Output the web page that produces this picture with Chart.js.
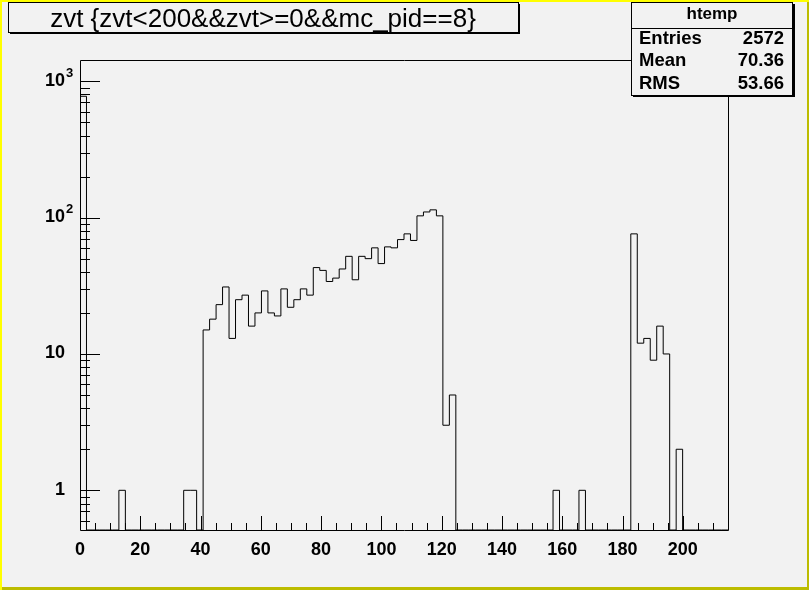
<!DOCTYPE html>
<html><head><meta charset="utf-8">
<script src="https://cdn.jsdelivr.net/npm/chart.js@4.4.1/dist/chart.umd.min.js"></script>
<style>html,body{margin:0;padding:0;background:#f2f2f2;overflow:hidden}</style></head>
<body><canvas id="c" width="809" height="590"></canvas>
<script>
const titleText = 'zvt {zvt<200&&zvt>=0&&mc_pid==8}';
const histName = 'htemp';
const statLabels = ['Entries', 'Mean', 'RMS'];
const statValues = ['2572', '70.36', '53.66'];
const xMin = 0, xMax = 215, nBins = 100;
const yAxisMin = 0.5115, yAxisMax = 1432;
const xTickValues = [0, 20, 40, 60, 80, 100, 120, 140, 160, 180, 200];
const xTickLabels = ['0', '20', '40', '60', '80', '100', '120', '140', '160', '180', '200'];
const yTickValues = [1, 10, 100, 1000];
const yTickLabels = ['1', '10', '10^2', '10^3'];
const counts = [
  776, 0, 0, 0, 0, 0, 1, 0, 0, 0,
  0, 0, 0, 0, 0, 0, 1, 1, 0, 15,
  18, 23, 31, 13, 25, 27, 16, 20, 29, 20,
  19, 30, 22, 25, 30, 27, 43, 41, 34, 36,
  42, 52, 35, 52, 50, 60, 46, 61, 60, 69,
  76, 68, 103, 110, 114, 103, 3, 5, 0, 0,
  0, 0, 0, 0, 0, 0, 0, 0, 0, 0,
  0, 0, 0, 1, 0, 0, 0, 1, 0, 0,
  0, 0, 0, 0, 0, 76, 12, 13, 9, 16,
  10, 0, 2, 0, 0, 0, 0, 0, 0, 0
];

const binW = (xMax - xMin) / nBins;
const pts = [{x: xMin, y: yAxisMin}];
counts.forEach((c, i) => pts.push({x: xMin + i * binW, y: c > 0 ? c : yAxisMin}));
pts.push({x: xMax, y: yAxisMin});

const BG = '#f2f2f2';
const rootPlugin = {
  id: 'rootStyle',
  beforeDraw(chart) {
    const ctx = chart.ctx;
    ctx.save();
    ctx.fillStyle = BG;
    ctx.fillRect(0, 0, 809, 590);
    ctx.restore();
  },
  afterDraw(chart) {
    const ctx = chart.ctx;
    const a = chart.chartArea;
    const xs = chart.scales.x, ys = chart.scales.y;
    ctx.save();
    ctx.strokeStyle = '#000';
    ctx.fillStyle = '#000';
    ctx.lineWidth = 1;
    // frame
    ctx.beginPath();
    ctx.moveTo(a.left + 0.5, a.top + 0.5); ctx.lineTo(a.right + 0.5, a.top + 0.5);
    ctx.lineTo(a.right + 0.5, a.bottom + 0.5); ctx.lineTo(a.left + 0.5, a.bottom + 0.5);
    ctx.closePath();
    ctx.stroke();
    // y ticks (log)
    ctx.beginPath();
    for (let d = -1; d <= 3; d++) {
      for (let m = 1; m <= 9; m++) {
        const v = m * Math.pow(10, d);
        if (v < yAxisMin || v > yAxisMax) continue;
        const y = Math.round(ys.getPixelForValue(v)) + 0.5;
        const len = m === 1 ? 20 : 10;
        ctx.moveTo(a.left, y); ctx.lineTo(a.left + len, y);
      }
    }
    // x ticks
    for (let v = 5; v < xMax; v += 5) {
      const x = Math.round(xs.getPixelForValue(v)) + 0.5;
      const len = v % 20 === 0 ? 14 : 7;
      ctx.moveTo(x, a.bottom); ctx.lineTo(x, a.bottom - len);
    }
    ctx.stroke();
    // x labels
    ctx.font = 'bold 18px "Liberation Sans", Arial, sans-serif';
    ctx.textAlign = 'center';
    ctx.textBaseline = 'alphabetic';
    xTickValues.forEach((v, i) => {
      ctx.fillText(xTickLabels[i], xs.getPixelForValue(v), a.bottom + 25);
    });
    // y labels
    yTickValues.forEach((v, i) => {
      const y = ys.getPixelForValue(v);
      const parts = yTickLabels[i].split('^');
      ctx.font = 'bold 18px "Liberation Sans", Arial, sans-serif';
      ctx.textAlign = 'right';
      ctx.fillText(parts[0], 65, y + 4.5);
      if (parts[1]) {
        ctx.font = 'bold 13px "Liberation Sans", Arial, sans-serif';
        ctx.textAlign = 'left';
        ctx.fillText(parts[1], 66, y - 4.5);
      }
    });
    // title box
    ctx.fillStyle = '#000';
    ctx.fillRect(10, 32, 510, 2);
    ctx.fillRect(518, 4, 2, 30);
    ctx.fillStyle = BG;
    ctx.fillRect(8, 2, 510, 30);
    ctx.strokeRect(8.5, 2.5, 510, 30);
    ctx.fillStyle = '#000';
    ctx.font = '26px "Liberation Sans", Arial, sans-serif';
    ctx.textAlign = 'center';
    ctx.fillText(titleText, 263, 27);
    // stats box
    ctx.fillRect(633, 95, 162, 2);
    ctx.fillRect(793, 4, 2, 93);
    ctx.fillStyle = BG;
    ctx.fillRect(631, 2, 162, 93);
    ctx.strokeRect(631.5, 2.5, 161, 93);
    ctx.beginPath();
    ctx.moveTo(631, 28.5); ctx.lineTo(793, 28.5);
    ctx.stroke();
    ctx.fillStyle = '#000';
    ctx.font = 'bold 17px "Liberation Sans", Arial, sans-serif';
    ctx.textAlign = 'center';
    ctx.fillText(histName, 712, 19);
    ctx.font = 'bold 18.5px "Liberation Sans", Arial, sans-serif';
    const rowsY = [43.5, 66, 88.5];
    statLabels.forEach((lab, i) => {
      ctx.textAlign = 'left';
      ctx.fillText(lab, 639, rowsY[i]);
      ctx.textAlign = 'right';
      ctx.fillText(statValues[i], 784, rowsY[i]);
    });
    // outer bevel border
    ctx.fillStyle = '#ffff00';
    ctx.fillRect(0, 0, 809, 2);
    ctx.fillRect(0, 0, 2, 590);
    ctx.fillStyle = '#bcbc00';
    ctx.fillRect(807, 2, 2, 588);
    ctx.fillRect(2, 587, 807, 3);
    ctx.restore();
  }
};

new Chart(document.getElementById('c'), {
  type: 'line',
  data: {
    datasets: [{
      label: histName,
      data: pts,
      stepped: 'before',
      borderColor: '#000',
      borderWidth: 1,
      pointRadius: 0,
      fill: false,
      tension: 0
    }]
  },
  options: {
    responsive: false,
    animation: false,
    devicePixelRatio: 1,
    layout: {padding: {left: 0, right: 81, top: 60, bottom: 0}},
    plugins: {legend: {display: false}, tooltip: {enabled: false}, title: {display: false}},
    scales: {
      x: {
        type: 'linear', min: xMin, max: xMax,
        afterFit(s) { s.height = 60; },
        grid: {display: false}, border: {display: false}, ticks: {display: false}
      },
      y: {
        type: 'logarithmic', min: yAxisMin, max: yAxisMax,
        afterFit(s) { s.width = 80; },
        grid: {display: false}, border: {display: false}, ticks: {display: false}
      }
    }
  },
  plugins: [rootPlugin]
});
</script></body></html>
